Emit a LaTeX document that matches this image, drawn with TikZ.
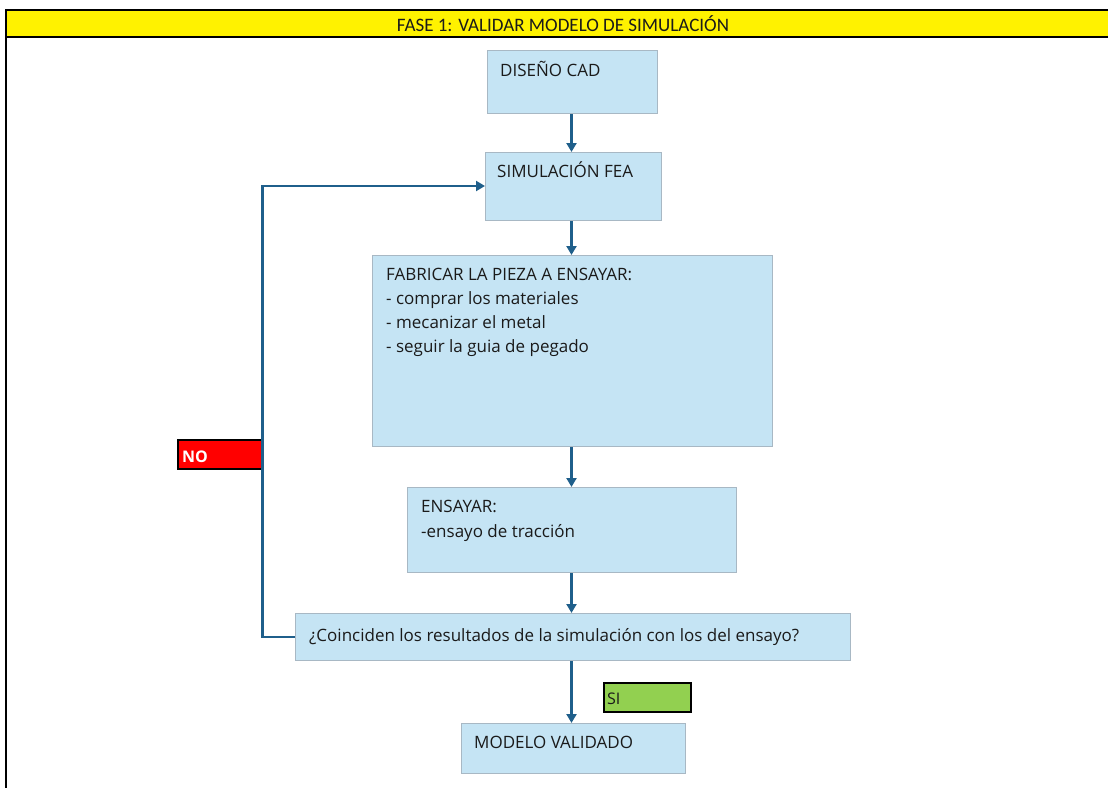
\documentclass[tikz,border=0pt]{standalone}
\usepackage{fontspec}
\setmainfont{Open Sans}
\newfontfamily\bannerfont{Carlito}
\usetikzlibrary{arrows.meta}
\definecolor{boxfill}{HTML}{C5E4F4}
\definecolor{boxline}{HTML}{A8B8C4}
\definecolor{arrcol}{HTML}{1F5F8B}
\definecolor{nored}{HTML}{FF0000}
\definecolor{sigreen}{HTML}{92D050}
\definecolor{txt}{HTML}{1A1A1A}
\tikzset{
  procbox/.style={draw=boxline, line width=1pt, fill=boxfill, anchor=north west, inner sep=0pt},
  boxtext/.style={anchor=base west, inner sep=0pt, text=txt, font=\fontsize{17}{20}\selectfont},
  arr/.style={draw=arrcol, line width=2.5pt, -{Triangle[width=10pt,length=9pt]}},
  tagbox/.style={draw=black, line width=2pt, anchor=north west, inner sep=0pt},
}
\begin{document}
\begin{tikzpicture}[x=1pt,y=-1pt]
\useasboundingbox (0,0) rectangle (1108,787);
% frame and banner
\fill[yellow] (6,10) rectangle (1110,37);
\draw[black, line width=2.5pt] (1112,10) -- (6,10) -- (6,790);
\draw[black, line width=2.5pt] (6,37) -- (1112,37);
\node[inner sep=0pt, font=\bannerfont\fontsize{19}{22}\selectfont, text=txt] (banner) at (563,24) {FASE 1: VALIDAR MODELO DE SIMULACIÓN};
% boxes
\node[procbox, minimum width=170pt, minimum height=63pt] (cad) at (487,50) {};
\node[boxtext] (cadt) at (500,76) {DISEÑO CAD};
\node[procbox, minimum width=176pt, minimum height=68pt] (fea) at (485,152) {};
\node[boxtext] (feat) at (497,177) {SIMULACIÓN FEA};
\node[procbox, minimum width=400pt, minimum height=191pt] (fab) at (372,255) {};
\node[boxtext] (fab1) at (386,280) {FABRICAR LA PIEZA A ENSAYAR:};
\node[boxtext] (fab2) at (386,304) {- comprar los materiales};
\node[boxtext] (fab3) at (386,328) {- mecanizar el metal};
\node[boxtext] (fab4) at (386,352) {- seguir la guia de pegado};
\node[procbox, minimum width=329pt, minimum height=85pt] (ens) at (407,487) {};
\node[boxtext] (ens1) at (421,512) {ENSAYAR:};
\node[boxtext] (ens2) at (421,537) {-ensayo de tracción};
\node[procbox, minimum width=555pt, minimum height=47pt] (coin) at (295,613) {};
\node[boxtext] (coint) at (309,641) {¿Coinciden los resultados de la simulación con los del ensayo?};
\node[procbox, minimum width=224pt, minimum height=50pt] (val) at (461,723) {};
\node[boxtext] (valt) at (474,748) {MODELO VALIDADO};
% tags
\node[tagbox, fill=nored, minimum width=85pt, minimum height=29pt] (no) at (177,439) {};
\node[anchor=base west, inner sep=0pt, text=white, font=\bfseries\fontsize{16}{18}\selectfont] (not) at (182,462) {NO};
\node[tagbox, fill=sigreen, minimum width=87pt, minimum height=29pt] (si) at (603,682) {};
\node[anchor=base west, inner sep=0pt, text=txt, font=\fontsize{16}{18}\selectfont] (sit) at (607,704) {SI};
% connectors
\coordinate (axis) at (571.5,0);
\draw[arr] (cad.south -| axis) -- (fea.north -| axis);
\draw[arr] (fea.south -| axis) -- (fab.north -| axis);
\draw[arr] (fab.south -| axis) -- (ens.north -| axis);
\draw[arr] (ens.south -| axis) -- (coin.north -| axis);
\draw[arr] (coin.south -| axis) -- (val.north -| axis);
\coordinate (loopx) at (262.5,0);
\draw[arr] (coin.west) -- (coin.west -| loopx) -- (loopx |- 0,186) -- (fea.west |- 0,186);
\end{tikzpicture}
\end{document}
